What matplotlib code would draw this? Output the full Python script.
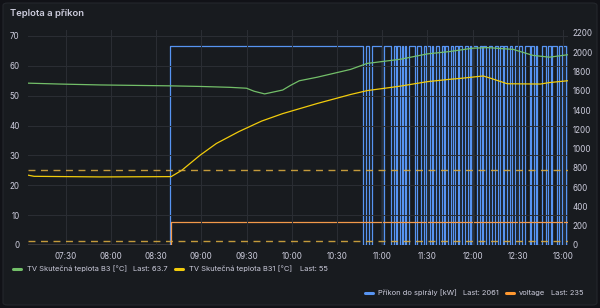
import matplotlib.pyplot as plt
from matplotlib.patches import FancyBboxPatch
from matplotlib.lines import Line2D
from matplotlib.ticker import FixedLocator, FuncFormatter

plt.rcParams['font.family'] = ['Inter', 'DejaVu Sans']


def mins(hhmm):
    h, m = hhmm.split(':')
    return int(h) * 60 + float(m)


# TV Skutečná teplota B3 [°C]  (levá osa)
b3_time = ['07:05', '07:26', '07:53', '08:39', '08:59', '09:19', '09:30', '09:35', '09:42',
           '09:54', '09:59', '10:05', '10:17', '10:39', '10:50', '11:12', '11:30', '11:45',
           '12:00', '12:10', '12:27', '12:40', '12:51', '13:03']
b3_val = [54.2, 53.9, 53.6, 53.3, 53.1, 52.8, 52.5, 51.5, 50.6,
          51.9, 53.4, 55.0, 56.2, 58.8, 60.8, 62.2, 64.0, 64.8,
          65.9, 66.1, 65.5, 63.5, 62.9, 63.7]

# TV Skutečná teplota B31 [°C]  (levá osa)
b31_time = ['07:05', '07:09', '07:53', '08:40', '08:47', '08:59', '09:10', '09:25', '09:40',
            '09:54', '10:17', '10:39', '10:50', '11:12', '11:30', '11:45', '11:52', '12:07',
            '12:11', '12:23', '12:45', '12:51', '13:03']
b31_val = [23.4, 23.0, 22.8, 22.9, 25.0, 30.0, 34.0, 38.0, 41.5,
           44.0, 47.4, 50.4, 51.7, 53.2, 54.7, 55.5, 55.8, 56.6,
           56.0, 54.0, 53.9, 54.4, 55.0]

# Příkon do spirály [kW]  (pravá osa)
power_start = '07:05'
power_on = '08:39'
power_end = '13:03'
power_level = 2060
power_off = [('10:47', '10:49'), ('10:51', '10:53'), ('11:00', '11:01'), ('11:06', '11:08'),
             ('11:09', '11:10'), ('11:12', '11:13'), ('11:14', '11:15'), ('11:16', '11:18'),
             ('11:22', '11:23'), ('11:26', '11:28'), ('11:29', '11:30'), ('11:32', '11:33'),
             ('11:34', '11:36'), ('11:38', '11:40'), ('11:41', '11:42'), ('11:44', '11:46'),
             ('11:47', '11:48'), ('11:50', '11:51'), ('11:53', '11:55'), ('11:57', '11:58'),
             ('11:59', '12:00'), ('12:03', '12:05'), ('12:06', '12:07'), ('12:09', '12:11'),
             ('12:13', '12:15'), ('12:17', '12:18'), ('12:20', '12:21'), ('12:23', '12:25'),
             ('12:26', '12:28'), ('12:30', '12:31'), ('12:33', '12:35'), ('12:38', '12:39'),
             ('12:41', '12:42'), ('12:43', '12:46'), ('12:49', '12:50'), ('12:52', '12:53'),
             ('12:56', '12:57'), ('12:59', '13:00'), ('13:02', '13:03')]

# voltage  (pravá osa)
volt_time = ['07:05', '08:40', '08:40', '13:03']
volt_val = [0, 0, 235, 235]

thresholds = [25, 1.2]
x_ticks = ['07:30', '08:00', '08:30', '09:00', '09:30', '10:00', '10:30',
           '11:00', '11:30', '12:00', '12:30', '13:00']

BG = '#181b1f'
TXT = '#ccccdc'
GRID = '#2b2e34'

fig = plt.figure(figsize=(6, 3.08), dpi=100, facecolor='#111217')
panel = FancyBboxPatch((3 / 600, 3 / 308), 594 / 600, 302 / 308,
                       boxstyle='round,pad=0,rounding_size=0.008',
                       transform=fig.transFigure, facecolor=BG, edgecolor='#24272c', lw=0.8,
                       zorder=-10)
fig.add_artist(panel)
fig.text(10 / 600, 1 - 14 / 308, 'Teplota a příkon', color=TXT, fontsize=6.8,
         fontweight='semibold', va='center', ha='left')

ax = fig.add_axes([28 / 600, 1 - 245 / 308, 540 / 600, 215 / 308])
ax2 = ax.twinx()
ax2.set_zorder(1)
ax.set_zorder(2)
ax.patch.set_visible(False)
ax2.patch.set_visible(False)

# příkon - sestavení schodové řady
pt = [mins(power_start), mins(power_on), mins(power_on)]
pv = [0, 0, power_level]
for a, b in power_off:
    pt += [mins(a), mins(a), mins(b), mins(b)]
    pv += [power_level, 0, 0, power_level]
pt.append(mins(power_end))
pv.append(power_level)

ax2.plot(pt, pv, color='#5794f2', lw=0.9)
ax2.plot([mins(t) for t in volt_time], volt_val, color='#f2994a', lw=0.9)

ax.plot([mins(t) for t in b3_time], b3_val, color='#73bf69', lw=0.9)
ax.plot([mins(t) for t in b31_time], b31_val, color='#f2cc0c', lw=0.9)
for th in thresholds:
    ax.axhline(th, color='#d8a93f', lw=1.0, ls=(0, (5, 4)), alpha=0.9)

xmin, xmax = mins('07:05'), mins('13:03.3')
ax.set_xlim(xmin, xmax)
ax.set_ylim(0, 72)
ax2.set_ylim(0, 2231)

ax.xaxis.set_major_locator(FixedLocator([mins(t) for t in x_ticks]))
ax.xaxis.set_major_formatter(FuncFormatter(lambda v, p: '%02d:%02d' % (v // 60, v % 60)))
ax.set_yticks(range(0, 71, 10))
ax2.set_yticks(range(0, 2201, 200))

for a in (ax, ax2):
    for s in a.spines.values():
        s.set_visible(False)
    a.tick_params(colors=TXT, labelsize=5.8, length=0)
ax.tick_params(axis='y', pad=6)
ax.tick_params(axis='x', pad=5)
ax2.tick_params(axis='y', pad=3.5)
ax.grid(True, color=GRID, lw=0.7)
ax2.grid(False)

# legenda
def leg(x_dash, x_txt, x_last, y, color, label, last):
    yf = 1 - y / 308
    fig.add_artist(Line2D([x_dash / 600, (x_dash + 8) / 600], [yf, yf], color=color, lw=2.2,
                          solid_capstyle='round', transform=fig.transFigure))
    fig.text(x_txt / 600, yf, label, color=TXT, fontsize=5.4, va='center', ha='left')
    fig.text(x_last / 600, yf, last, color=TXT, fontsize=5.4, va='center', ha='left')


leg(13, 27, 133, 269, '#73bf69', 'TV Skutečná teplota B3 [°C]', 'Last: 63.7')
leg(175, 189, 300, 269, '#f2cc0c', 'TV Skutečná teplota B31 [°C]', 'Last: 55')
leg(365, 378, 463, 293, '#5794f2', 'Příkon do spirály [kW]', 'Last: 2061')
leg(506, 519, 551, 293, '#ff9830', 'voltage', 'Last: 235')

fig.savefig('out.png', dpi=100, facecolor=fig.get_facecolor())
